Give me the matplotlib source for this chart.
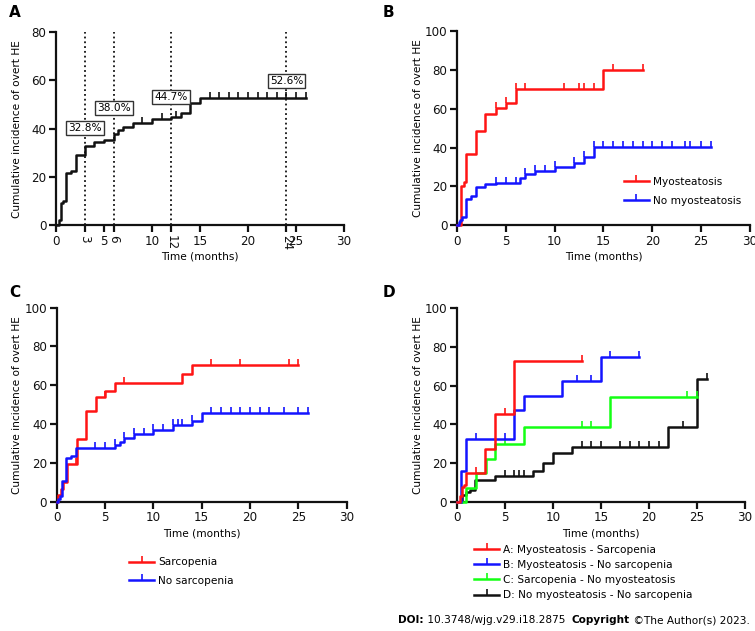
import numpy as np
import matplotlib
matplotlib.use("Agg")
import matplotlib.pyplot as plt
from matplotlib.lines import Line2D

plt.rcParams['font.family'] = ['DejaVu Sans']
plt.rcParams['font.size'] = 7.6

# ---- data ----
# panel A: whole cohort
a_t = [0, 0.3, 0.5, 0.75, 1.0, 1.6, 2.1, 3, 4, 5, 6, 6.5, 7, 8, 10, 12, 13, 14, 15]
a_y = [0, 2.2, 9.1, 10, 21.5, 22.6, 29.1, 32.8, 34.6, 35.3, 38.0, 39.4, 40.8, 42.5, 43.9, 44.7, 46.4, 50.5, 52.6]
a_end = 26
a_cens = [9, 11, 12.5, 16, 17, 18, 19, 20, 21, 22, 23, 24, 25, 26]
a_marks = [3, 6, 12, 24]
a_labels = ["32.8%", "38.0%", "44.7%", "52.6%"]
a_label_y = [40.3, 48.5, 53.2, 59.7]

# panel B: myosteatosis
b_names = ["Myosteatosis", "No myosteatosis"]
b_red_t = [0, 0.37, 0.68, 0.95, 1.9, 2.9, 4.0, 5.0, 6.0, 15]
b_red_y = [0, 20.1, 22.5, 36.9, 48.5, 57.0, 60.1, 63.1, 69.9, 79.8]
b_red_end = 19
b_red_cens = [4, 5, 6, 7, 11, 12.5, 13, 14, 16, 19]
b_blue_t = [0, 0.17, 0.3, 0.55, 0.95, 1.45, 1.9, 2.9, 4.0, 6.5, 7.0, 8.0, 10, 12, 13, 14]
b_blue_y = [0, 1.7, 2.9, 4.3, 13.7, 15.1, 19.8, 21.0, 22.0, 24.1, 26.3, 28.1, 30.2, 32.2, 35.0, 40.5]
b_blue_end = 26
b_blue_cens = [4, 5, 6, 7, 8, 9, 10, 12, 13, 14, 15, 16, 17, 18, 19, 20, 21, 22, 23.3, 23.9, 25, 26]

# panel C: sarcopenia
c_names = ["Sarcopenia", "No sarcopenia"]
c_red_t = [0, 0.1, 0.45, 0.7, 1.03, 2.07, 3.03, 4.03, 5.03, 6.03, 13.0, 14.03]
c_red_y = [0, 3.4, 6.5, 10, 19.4, 32.3, 46.7, 53.8, 57.2, 61.0, 65.6, 70.4]
c_red_end = 25
c_red_cens = [2, 5, 7, 16, 19, 24, 25]
c_blue_t = [0, 0.17, 0.35, 0.5, 1.0, 1.45, 2.0, 6.0, 6.55, 7.0, 8.0, 10, 12, 14, 15]
c_blue_y = [0, 1.4, 3.1, 10.7, 22.7, 23.7, 27.8, 29.2, 30.9, 33.0, 34.7, 36.8, 39.5, 41.8, 45.9]
c_blue_end = 26
c_blue_cens = [4, 5, 6, 7, 8, 9, 10, 11, 12, 12.5, 13, 14, 16, 17, 18, 19, 20, 21, 22, 23.5, 25, 26]

# panel D: combined groups
d_names = ["A: Myosteatosis - Sarcopenia", "B: Myosteatosis - No sarcopenia",
           "C: Sarcopenia - No myosteatosis", "D: No myosteatosis - No sarcopenia"]
d_a_t = [0, 0.3, 0.5, 0.8, 1.0, 2.95, 3.95, 5.97]
d_a_y = [0, 2.9, 7.5, 8.5, 15.0, 27.2, 45.2, 72.9]
d_a_end = 13
d_a_cens = [2, 5, 13]
d_b_t = [0, 0.42, 0.94, 6.0, 7.0, 11.0, 15.0]
d_b_y = [0, 16.0, 32.4, 47.4, 54.8, 62.4, 75.0]
d_b_end = 19
d_b_cens = [2, 5, 12.5, 14, 16, 19]
d_c_t = [0, 0.97, 2.0, 3.0, 4.0, 7.0, 16.0]
d_c_y = [0, 7.2, 14.7, 21.9, 29.8, 38.6, 54.0]
d_c_end = 25
d_c_cens = [5, 13, 14, 24, 25]
d_d_t = [0, 0.52, 0.94, 1.39, 1.94, 3.95, 7.98, 9.0, 10.0, 12.0, 22.0, 25.0]
d_d_y = [0, 3.4, 5.2, 6.0, 11.2, 13.4, 16.0, 19.8, 25.0, 28.5, 38.8, 63.5]
d_d_end = 26
d_d_cens = [5, 6, 6.5, 7, 13, 14, 15, 17, 18, 19, 20, 21, 23.5, 26]

RED = "#ff1414"
BLUE = "#1414ff"
GREEN = "#14ff14"
BLACK = "#111111"


def km(ax, t, y, end, cens, color):
    tt = list(t) + [end]
    yy = list(y) + [y[-1]]
    ax.step(tt, yy, where='post', color=color, lw=1.8, clip_on=False, zorder=3)
    # censor ticks sit on the step value at that time
    idx = np.searchsorted(np.array(t), np.array(cens), side='right') - 1
    cy = np.array(y)[idx]
    ax.plot(cens, cy, ls='none', marker=2, ms=4.5, mew=1.2, color=color,
            clip_on=False, zorder=3)


def style(ax, ymax, ylab_x):
    ax.set_xlim(0, 30)
    ax.set_ylim(0, ymax)
    for s in ['top', 'right']:
        ax.spines[s].set_visible(False)
    for s in ['left', 'bottom']:
        ax.spines[s].set_linewidth(1.6)
        ax.spines[s].set_color(BLACK)
    ax.tick_params(width=1.6, length=5, labelsize=8.6, colors=BLACK, pad=2)
    ax.set_yticks(np.arange(0, ymax + 1, 20))
    ax.set_xlabel("Time (months)", fontsize=7.6, va='center')
    ax.set_ylabel("Cumulative incidence of overt HE", fontsize=7.6, va='center')
    ax.xaxis.set_label_coords(0.5, -0.163)
    ax.yaxis.set_label_coords(ylab_x, 0.5)


def handles(colors):
    return [Line2D([], [], color=c, lw=1.8, marker=2, ms=4.5, mew=1.2) for c in colors]


fig = plt.figure(figsize=(7.55, 6.31), dpi=100)

# ---- A ----
axA = fig.add_axes([0.0742, 0.643, 0.3815, 0.306])
style(axA, 80, -0.135)
km(axA, a_t, a_y, a_end, a_cens, BLACK)
for m, lab, ly in zip(a_marks, a_labels, a_label_y):
    axA.plot([m, m], [0, 80], color=BLACK, ls=':', lw=1.3, zorder=2)
    axA.text(m, ly, lab, ha='center', va='center', fontsize=7.6, zorder=4,
             bbox=dict(boxstyle='square,pad=0.2', fc='white', ec='#333333', lw=1))
xt = [0, 3, 5, 6, 10, 12, 15, 20, 24, 25, 30]
axA.set_xticks(xt)
axA.set_xticklabels([str(v) for v in xt])
for v, lab in zip(xt, axA.get_xticklabels()):
    if v in a_marks:
        lab.set_rotation(270)
        lab.set_va('top')
        lab.set_ha('center')

# ---- B ----
axB = fig.add_axes([0.6053, 0.643, 0.388, 0.308])
style(axB, 100, -0.132)
km(axB, b_red_t, b_red_y, b_red_end, b_red_cens, RED)
km(axB, b_blue_t, b_blue_y, b_blue_end, b_blue_cens, BLUE)
fig.legend(handles([RED, BLUE]), b_names, loc='center left',
           bbox_to_anchor=(0.826, 0.697), frameon=False, fontsize=7.6,
           numpoints=1, handlelength=2.4, handletextpad=0.35, labelspacing=0.85,
           borderpad=0, borderaxespad=0)

# ---- C ----
axC = fig.add_axes([0.0751, 0.2049, 0.3841, 0.3075])
style(axC, 100, -0.138)
km(axC, c_red_t, c_red_y, c_red_end, c_red_cens, RED)
km(axC, c_blue_t, c_blue_y, c_blue_end, c_blue_cens, BLUE)
fig.legend(handles([RED, BLUE]), c_names, loc='center left',
           bbox_to_anchor=(0.171, 0.0943), frameon=False, fontsize=7.6,
           numpoints=1, handlelength=2.4, handletextpad=0.35, labelspacing=0.8,
           borderpad=0, borderaxespad=0)

# ---- D ----
axD = fig.add_axes([0.6049, 0.2049, 0.3819, 0.3065])
style(axD, 100, -0.133)
km(axD, d_d_t, d_d_y, d_d_end, d_d_cens, BLACK)
km(axD, d_c_t, d_c_y, d_c_end, d_c_cens, GREEN)
km(axD, d_b_t, d_b_y, d_b_end, d_b_cens, BLUE)
km(axD, d_a_t, d_a_y, d_a_end, d_a_cens, RED)
fig.legend(handles([RED, BLUE, GREEN, BLACK]), d_names, loc='center left',
           bbox_to_anchor=(0.628, 0.0927), frameon=False, fontsize=7.6,
           numpoints=1, handlelength=2.4, handletextpad=0.35, labelspacing=0.5,
           borderpad=0, borderaxespad=0)

# panel letters
for lab, x, y in [("A", 0.012, 0.992), ("B", 0.507, 0.992), ("C", 0.012, 0.548), ("D", 0.507, 0.548)]:
    fig.text(x, y, lab, fontsize=11, fontweight='bold', va='top', ha='left')

# footer with mixed weights, right end near the image edge
parts = [("DOI:", 'bold'), (" 10.3748/wjg.v29.i18.2875  ", 'normal'),
         ("Copyright", 'bold'), (" \u00a9The Author(s) 2023.", 'normal')]
r = fig.canvas.get_renderer()
texts = []
x = 0
for s, w in parts:
    t = fig.text(x, 0.0174, s, fontsize=7.6, fontweight=w, va='center', ha='left')
    bb = t.get_window_extent(renderer=r)
    texts.append((t, x))
    x += bb.width / fig.bbox.width
shift = 750 / 755 - x
for t, x0 in texts:
    t.set_x(x0 + shift)

fig.savefig("out.png", dpi=100)
